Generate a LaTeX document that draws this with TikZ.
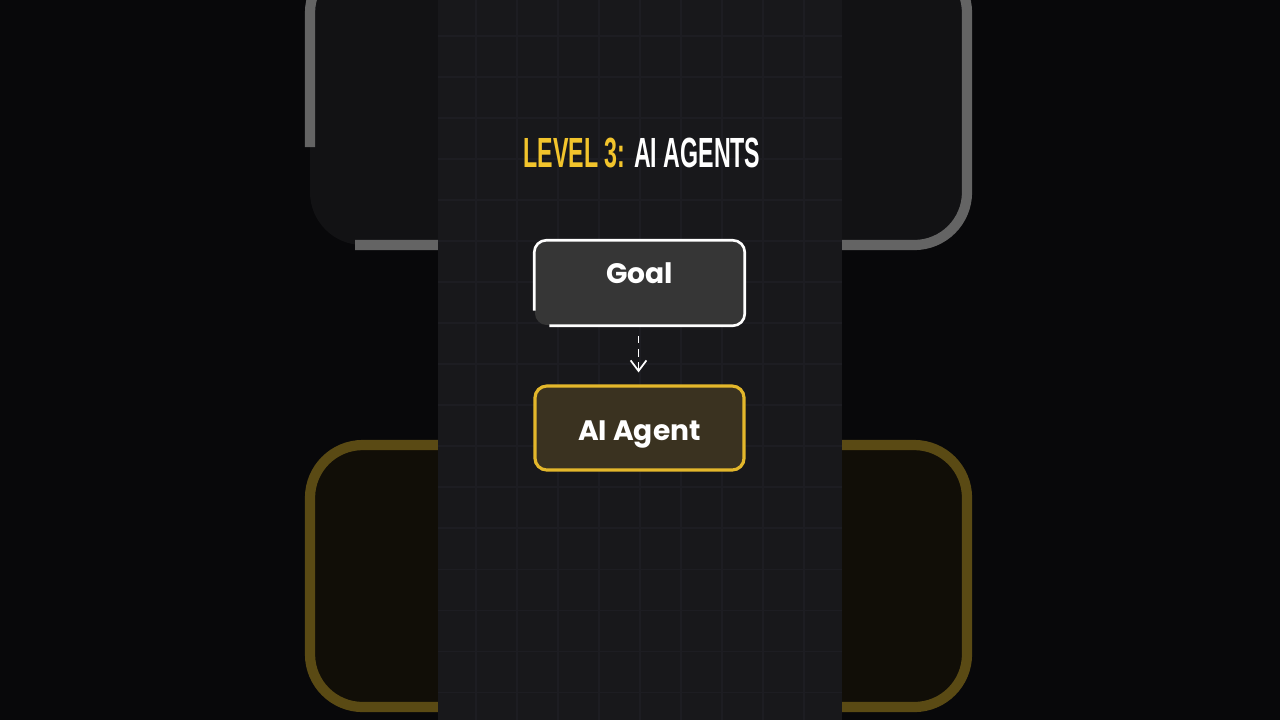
\documentclass[tikz,border=0pt]{standalone}
\usepackage{fontspec}
\usepackage{graphicx}
\usetikzlibrary{arrows.meta, calc}
\newfontfamily\boxfont{Poppins}
\newfontfamily\titlefont{Liberation Sans}
\definecolor{outerbg}{HTML}{08080A}
\definecolor{panelbg}{HTML}{18181B}
\definecolor{gridline}{HTML}{1D1D22}
\definecolor{goalfill}{HTML}{363636}
\definecolor{agentfill}{HTML}{3A3220}
\definecolor{agentline}{HTML}{E3B72B}
\definecolor{titleyellow}{HTML}{F2C42C}
\definecolor{ghostgray}{HTML}{646464}
\definecolor{ghostfill}{HTML}{121214}
\definecolor{ghostyellow}{HTML}{5A4A14}
\definecolor{ghostyfill}{HTML}{110E07}

\begin{document}
\begin{tikzpicture}[x=0.01cm, y=-0.01cm,
		stepbox/.style={minimum width=2.09cm, minimum height=0.84cm, rounded corners=3.4pt,
			text=white, font=\boxfont\bfseries\fontsize{8}{10}\selectfont, inner sep=0pt},
		goalbox/.style={stepbox, fill=goalfill},
		agentbox/.style={stepbox, fill=agentfill, draw=agentline, line width=0.9pt},
		flow/.style={white, line width=0.5pt, dash pattern=on 2.2pt off 1.6pt, -{Straight Barb[length=3pt, width=4.5pt]}}]
					\useasboundingbox (0,0) rectangle (1280,720);
					\fill[outerbg] (0,0) rectangle (1280,720);
					% blurred copy of the diagram behind the panel
					\fill[ghostfill, rounded corners=15pt] (310,-40) rectangle (967,245);
					\draw[ghostgray, line width=2.9pt, rounded corners=15pt] (310,147) -- (310,-40) -- (967,-40) -- (967,245) -- (355,245);
					\draw[ghostyellow, fill=ghostyfill, line width=2.9pt, rounded corners=15pt] (310,445) rectangle (967,707);
					% panel with grid
					\fill[panelbg] (438,0) rectangle (842,720);
					\foreach \gx in {476,517,...,842}
						\draw[gridline, line width=0.3pt] (\gx,0) -- (\gx,720);
					\foreach \gy in {36,77,...,720}
						\draw[gridline, line width=0.3pt] (438,\gy) -- (842,\gy);
					\node (title) at (642,153) {\titlefont\bfseries\fontsize{12}{14}\selectfont
						\scalebox{0.55}[1]{\textcolor{titleyellow}{LEVEL 3:} \textcolor{white}{AI AGENTS}}};
					\node (goal) at (639.5,283) [goalbox] {\raisebox{0pt}[0pt][0pt]{Goal}};
					\draw[white, line width=0.75pt, rounded corners=3.4pt] ($(goal.south west)+(0,-15)$) -- (goal.north west) -- (goal.north east) -- (goal.south east) -- ($(goal.south west)+(15,0)$);
					\node (agent) at (639.5,428) [agentbox] {\raisebox{-0.125cm}[0pt][0pt]{AI Agent}};
					\draw[flow] ($(goal.south)+(-1,10)$) -- ($(agent.north)+(-1,-12)$);
			\end{tikzpicture}
\end{document}
